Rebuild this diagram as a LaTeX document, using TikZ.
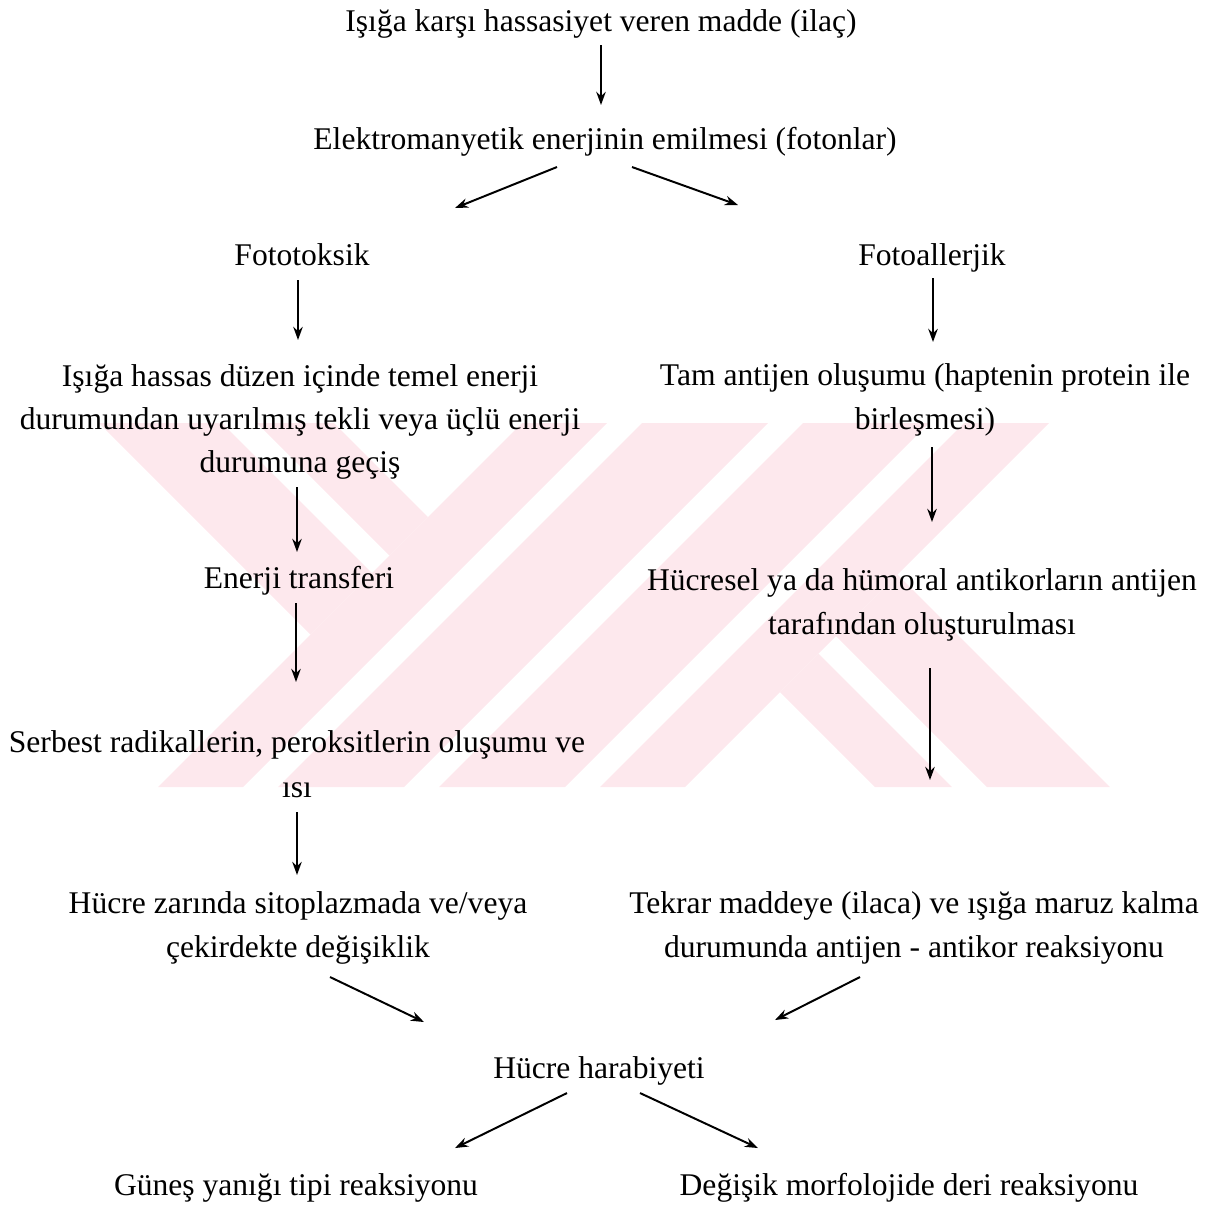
\documentclass[tikz,border=0pt]{standalone}
\usepackage{fontspec}
\setmainfont{Liberation Serif}
\usetikzlibrary{arrows.meta,calc}
\definecolor{wmpink}{RGB}{253,232,237}

\begin{document}
\begin{tikzpicture}[x=0.38pt, y=-0.38pt,
    every node/.style={inner sep=0pt, align=center, font=\fontsize{12}{16.5}\selectfont},
    flow/.style={-{Stealth[length=5pt,width=3.6pt]}, line width=0.75pt},
    wm/.style={fill=wmpink, draw=none}]
    \useasboundingbox (0,0) rectangle (1220,1205);

    % faint background mark
    \fill[wm] (99,423) -- (222,423) -- (372,573) -- (310.5,634.5) -- cycle;
    \fill[wm] (257,423) -- (334,423) -- (428,517) -- (389.5,555.5) -- cycle;
    \foreach \a/\b in {945/1030, 1065/1191, 1226/1352, 1387/1472}
        \fill[wm] (\a-423,423) -- (\b-423,423) -- (\b-787,787) -- (\a-787,787) -- cycle;
    \fill[wm] (780,692) -- (818.5,653.5) -- (952,787) -- (875,787) -- cycle;
    \fill[wm] (836,636) -- (897.5,574.5) -- (1110,787) -- (987,787) -- cycle;

    \node (ilac) at (601,24) {Işığa karşı hassasiyet veren madde (ilaç)};
    \node (emil) at (605,142) {Elektromanyetik enerjinin emilmesi (fotonlar)};
    \node (ftox) at (302,255) {Fototoksik};
    \node (fall) at (932,258) {Fotoallerjik};
    \node (gecis) at (300,422) {Işığa hassas düzen içinde temel enerji\\durumundan uyarılmış tekli veya üçlü enerji\\durumuna geçiş};
    \node (hapt) at (925,400) {Tam antijen oluşumu (haptenin protein ile\\birleşmesi)};
    \node (trans) at (299,581) {Enerji transferi};
    \node (antik) at (922,605) {Hücresel ya da hümoral antikorların antijen\\tarafından oluşturulması};
    \node[font=\fontsize{12}{17}\selectfont] (radik) at (297,764) {Serbest radikallerin, peroksitlerin oluşumu ve\\ısı};
    \node (zar) at (298,928) {Hücre zarında sitoplazmada ve/veya\\çekirdekte değişiklik};
    \node (tekrar) at (914,928) {Tekrar maddeye (ilaca) ve ışığa maruz kalma\\durumunda antijen - antikor reaksiyonu};
    \node (harab) at (599,1071) {Hücre harabiyeti};
    \node (gunes) at (296,1188) {Güneş yanığı tipi reaksiyonu};
    \node (deri) at (909,1188) {Değişik morfolojide deri reaksiyonu};

    \draw[flow] ($(ilac)+(0,21)$) -- ($(emil)+(-4,-37)$);
    \draw[flow] ($(emil)+(-48,25)$) -- ($(ftox)+(153,-47)$);
    \draw[flow] ($(emil)+(27,25)$) -- ($(fall)+(-194,-53)$);
    \draw[flow] ($(ftox)+(-4,25)$) -- ($(gecis)+(-2,-82)$);
    \draw[flow] ($(fall)+(1,20)$) -- ($(hapt)+(8,-58)$);
    \draw[flow] ($(gecis)+(-3,65)$) -- ($(trans)+(-2,-29)$);
    \draw[flow] ($(hapt)+(7,47)$) -- ($(antik)+(10,-83)$);
    \draw[flow] ($(trans)+(-3,22)$) -- ($(radik)+(-1,-82)$);
    \draw[flow] ($(antik)+(8,63)$) -- ($(tekrar)+(16,-148)$);
    \draw[flow] ($(radik)+(0,48)$) -- ($(zar)+(-1,-53)$);
    \draw[flow] ($(zar)+(32,49)$) -- ($(harab)+(-175,-49)$);
    \draw[flow] ($(tekrar)+(-54,49)$) -- ($(harab)+(176,-51)$);
    \draw[flow] ($(harab)+(-32,22)$) -- ($(gunes)+(159,-40)$);
    \draw[flow] ($(harab)+(41,22)$) -- ($(deri)+(-151,-40)$);
\end{tikzpicture}
\end{document}
